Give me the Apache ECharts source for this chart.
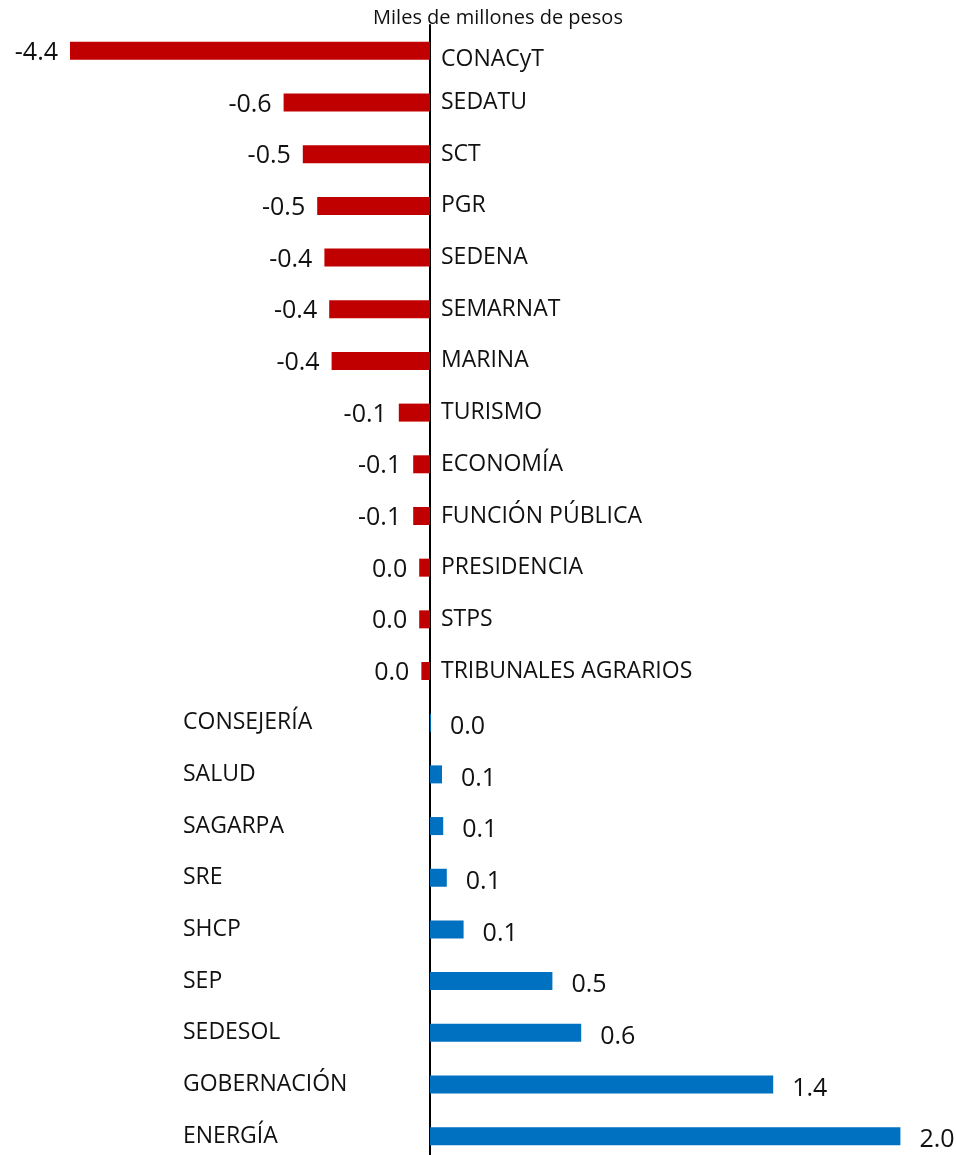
<!DOCTYPE html>
<html>
<head>
<meta charset="utf-8">
<script src="https://cdn.jsdelivr.net/npm/echarts@6/dist/echarts.min.js"></script>
<style>
  html, body { margin: 0; padding: 0; background: #fff; }
  #main { width: 956px; height: 1155px; }
</style>
</head>
<body>
<div id="main"></div>
<script>
var categories = ['CONACyT', 'SEDATU', 'SCT', 'PGR', 'SEDENA', 'SEMARNAT', 'MARINA',
  'TURISMO', 'ECONOMÍA', 'FUNCIÓN PÚBLICA', 'PRESIDENCIA', 'STPS', 'TRIBUNALES AGRARIOS',
  'CONSEJERÍA', 'SALUD', 'SAGARPA', 'SRE', 'SHCP', 'SEP', 'SEDESOL', 'GOBERNACIÓN', 'ENERGÍA'];
var values = [-4.4, -0.61, -0.53, -0.47, -0.44, -0.42, -0.41,
  -0.13, -0.07, -0.07, -0.045, -0.045, -0.036,
  0.004, 0.05, 0.055, 0.07, 0.14, 0.51, 0.63, 1.43, 1.96];
var title = 'Miles de millones de pesos';

var RED = '#C00000';
var BLUE = '#0070C0';
var FONT = '"Open Sans", sans-serif';

function fmt(v) {
  var s = v.toFixed(1);
  if (s === '-0.0') s = '0.0';
  return s;
}

var chart = echarts.init(document.getElementById('main'));

var barData = values.map(function (v) {
  var neg = v < 0;
  return {
    value: v,
    itemStyle: { color: neg ? RED : BLUE },
    label: neg
      ? { position: 'left', distance: 12, offset: [0, 2] }
      : { position: 'right', distance: 19, offset: [0, 4] }
  };
});

var option = {
  backgroundColor: '#fff',
  animation: false,
  title: {
    text: title,
    left: 493,
    top: 3,
    textAlign: 'center',
    textStyle: { fontFamily: FONT, fontSize: 20, fontWeight: 'normal', color: '#111' }
  },
  grid: { left: 70, top: 25, height: 1137, width: 840, outerBoundsMode: 'none' },
  xAxis: {
    type: 'value',
    min: -1.5,
    max: 2.0,
    show: false
  },
  yAxis: [{
    type: 'category',
    data: categories,
    inverse: true,
    position: 'left',
    axisLine: { onZero: true, lineStyle: { color: '#000', width: 2 } },
    axisTick: { show: false },
    splitLine: { show: false },
    axisLabel: {
      inside: true,
      margin: 371,
      fontFamily: FONT,
      fontSize: 23,
      color: '#111',
      formatter: function (name) {
        var i = categories.indexOf(name);
        if (values[i] >= 0) return '';
        if (name === 'CONACyT') return '{low|' + name + '}';
        return name;
      },
      rich: {
        low: { fontFamily: FONT, fontSize: 23, color: '#111', padding: [18, 0, 0, 0] }
      }
    }
  }, {
    type: 'category',
    data: categories,
    inverse: true,
    position: 'left',
    axisLine: { show: false, onZero: false },
    axisTick: { show: false },
    splitLine: { show: false },
    axisLabel: {
      inside: true,
      margin: 113,
      fontFamily: FONT,
      fontSize: 23,
      color: '#111',
      formatter: function (name) {
        var i = categories.indexOf(name);
        return values[i] >= 0 ? name : '';
      }
    }
  }],
  series: [{
    type: 'bar',
    yAxisIndex: 0,
    barWidth: 18,
    clip: true,
    data: barData,
    label: {
      show: true,
      fontFamily: FONT,
      fontSize: 25,
      color: '#111',
      formatter: function (p) { return fmt(p.value); }
    }
  }]
};

chart.setOption(option);
</script>
</body>
</html>
